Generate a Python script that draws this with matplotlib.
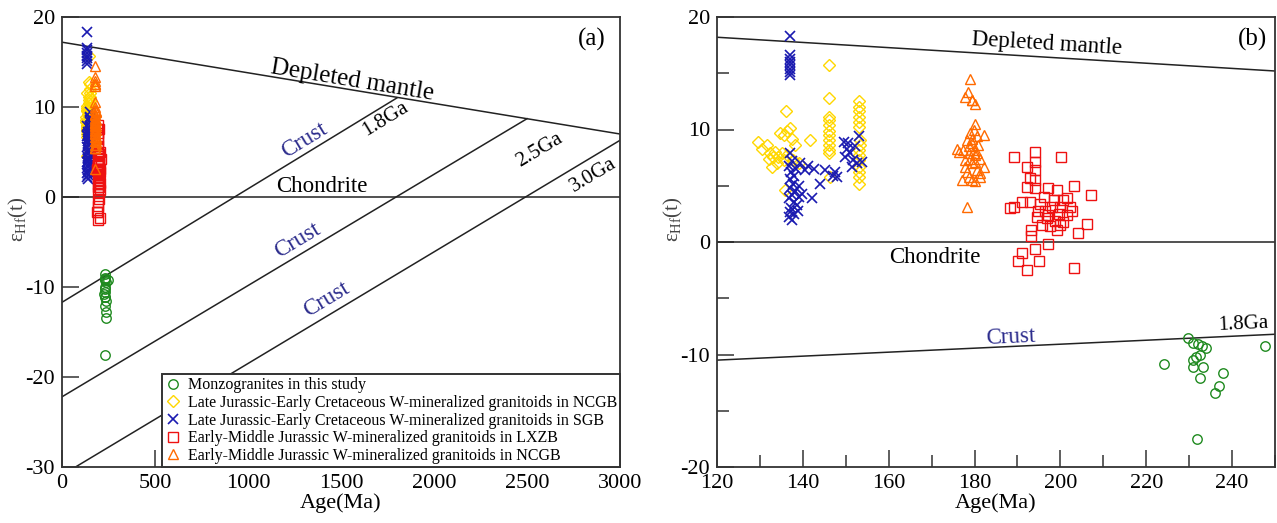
import numpy as np
import matplotlib
matplotlib.use("Agg")
import matplotlib.pyplot as plt
from matplotlib.ticker import MultipleLocator

plt.rcParams['font.family'] = ['Liberation Serif', 'DejaVu Serif']
plt.rcParams['mathtext.fontset'] = 'custom'
plt.rcParams['mathtext.rm'] = 'Liberation Serif'
plt.rcParams['axes.unicode_minus'] = False

# ---- data (age in Ma, epsilon Hf(t)) ----
green_age = [229.8, 231.0, 232.1, 233.0, 234.0, 232.6, 231.7, 231.0, 231.0, 233.3,
             224.2, 232.6, 237.9, 237.0, 236.1, 231.9, 247.7]
green_eps = [-8.5, -9.0, -9.1, -9.2, -9.4, -10.0, -10.2, -10.5, -11.1, -11.1,
             -10.8, -12.1, -11.6, -12.8, -13.4, -17.5, -9.2]

yellow_age = [129.6, 131.6, 130.4, 132.4, 133.1, 133.5, 134.3, 135.1, 135.5, 136.2,
              133.9, 132.0, 132.7, 134.7, 136.2, 137.0, 135.5, 137.4, 138.2, 137.8,
              139.0, 135.9, 136.1, 141.7, 146.0, 146.0, 146.0, 146.0, 146.0, 146.0,
              146.0, 146.0, 146.0, 146.0, 146.0, 146.3, 153.0, 153.0, 153.0, 153.0,
              153.0, 153.0, 153.0, 153.0, 153.0, 153.0, 153.0, 153.0, 153.0, 153.3, 153.3]
yellow_eps = [8.9, 8.6, 8.3, 7.9, 7.6, 8.0, 7.6, 7.9, 7.3, 7.7,
              7.0, 7.4, 6.7, 9.7, 9.9, 10.1, 9.5, 9.2, 8.6, 7.3,
              7.0, 4.6, 11.6, 9.1, 15.7, 12.8, 11.1, 10.8, 10.4, 9.9,
              9.5, 9.1, 8.6, 8.2, 7.9, 5.8, 12.5, 12.0, 11.6, 11.1,
              10.7, 10.2, 8.2, 7.7, 7.3, 6.7, 6.2, 5.8, 5.2, 9.1, 8.6]

blue_age = [137.0, 137.0, 137.0, 137.0, 137.0, 137.0, 137.0, 137.0,
            137.0, 137.5, 136.8, 138.5, 137.2, 138.0, 136.9, 137.6, 139.0, 137.1,
            138.2, 137.4, 136.8, 137.9, 138.6, 137.2, 137.0, 138.0, 136.8, 137.5,
            139.2, 138.8, 139.3, 141.3, 140.5, 142.5, 144.0, 142.1, 139.7, 145.2,
            147.5, 147.9, 147.1, 149.5, 150.2, 151.0, 149.8, 151.8, 152.6, 153.0,
            151.4, 150.6, 153.7, 152.2]
blue_eps = [18.3, 16.6, 16.3, 16.0, 15.7, 15.4, 15.1, 14.8,
            7.9, 7.2, 6.8, 6.5, 6.2, 5.9, 5.6, 5.2, 5.0, 4.8,
            4.5, 4.2, 3.9, 3.6, 3.3, 3.0, 2.7, 2.5, 2.2, 2.0,
            4.0, 2.8, 7.0, 6.8, 6.4, 6.5, 5.2, 3.9, 4.3, 6.4,
            6.2, 5.8, 5.9, 8.9, 8.3, 7.9, 7.6, 7.3, 7.0, 9.4,
            6.7, 8.8, 7.1, 8.5]

red_age = [189.1, 194.1, 200.2, 192.2, 194.1, 194.1, 194.1, 194.1, 193.0, 192.2,
           203.1, 207.1, 188.3, 189.1, 191.0, 193.0, 197.2, 199.2, 200.7, 202.3,
           201.5, 195.3, 196.5, 198.0, 199.6, 194.5, 196.9, 198.8, 200.7, 195.7,
           197.6, 200.0, 194.9, 198.4, 196.1, 200.0, 197.2, 199.2, 201.5, 202.7,
           206.2, 204.2, 193.2, 193.2, 194.1, 197.2, 191.0, 190.2, 192.2, 195.1, 203.1]
red_eps = [7.6, 8.0, 7.6, 6.7, 7.1, 6.4, 5.5, 4.8, 5.7, 4.9,
           5.0, 4.2, 3.0, 3.1, 3.6, 3.6, 4.8, 4.6, 3.7, 3.1,
           2.4, 3.4, 2.8, 3.1, 2.5, 2.2, 2.1, 1.9, 1.8, 1.5,
           1.4, 1.5, 2.8, 3.7, 4.0, 3.1, 2.4, 1.1, 3.9, 2.8,
           1.6, 0.8, 1.1, 0.5, -0.6, -0.2, -1.0, -1.7, -2.5, -1.7, -2.3]

orange_age = [179.0, 178.5, 179.4, 177.8, 180.1, 179.4, 180.1, 179.8, 182.1, 175.9,
              176.3, 178.2, 179.4, 180.9, 177.4, 178.6, 180.1, 181.3, 177.8, 179.4,
              182.1, 180.5, 178.2, 177.0, 180.1, 178.6, 181.3, 178.2, 179.0, 180.5,
              179.4, 178.6, 179.8, 180.5, 179.0, 180.1, 177.8, 181.3, 179.4]
orange_eps = [14.5, 13.3, 12.6, 12.9, 12.3, 12.6, 10.5, 10.0, 9.5, 8.3,
              8.0, 9.1, 8.8, 8.6, 8.2, 7.9, 7.7, 7.4, 7.3, 7.0,
              6.7, 6.4, 6.2, 5.5, 5.4, 5.8, 6.1, 3.1, 9.7, 9.4,
              9.2, 8.5, 8.2, 7.9, 7.4, 7.1, 6.7, 5.8, 5.5]

labels = ["Monzogranites in this study",
          "Late Jurassic-Early Cretaceous W-mineralized granitoids in NCGB",
          "Late Jurassic-Early Cretaceous W-mineralized granitoids in SGB",
          "Early-Middle Jurassic W-mineralized granitoids in LXZB",
          "Early-Middle Jurassic W-mineralized granitoids in NCGB"]

# reference lines: (x0, y0, x1, y1)
dm_a = (0, 17.2, 3000, 7.0)
crust_a = {"1.8Ga": (0, -11.7, 1800, 11.0),
           "2.5Ga": (0, -22.2, 2500, 8.7),
           "3.0Ga": (0, -30.9, 3000, 6.3)}
dm_b = (120, 18.2, 250, 15.2)
crust_b = (120, -10.5, 250, -8.2)

series = [
    (green_age, green_eps, 'o', '#1f8a1f'),
    (yellow_age, yellow_eps, 'D', '#ffd700'),
    (blue_age, blue_eps, 'x', '#1a1ab0'),
    (red_age, red_eps, 's', '#ee1111'),
    (orange_age, orange_eps, '^', '#ff6a00'),
]

line_c = '#222222'
crust_c = '#2b2b8c'

fig = plt.figure(figsize=(12.77, 5.23), dpi=100)
ax1 = fig.add_axes([62 / 1277, 56 / 523, 558 / 1277, 450 / 523])
ax2 = fig.add_axes([717 / 1277, 56 / 523, 558 / 1277, 450 / 523])


def scatter_all(ax):
    handles = []
    for (x, y, m, c), lab in zip(series, labels):
        size = 6.8 if m != 'D' else 5.8
        if m == 'x':
            h, = ax.plot(x, y, linestyle='none', marker=m, color=c, ms=7.5, mew=1.2, label=lab)
        else:
            h, = ax.plot(x, y, linestyle='none', marker=m, mec=c, mfc='none', ms=size,
                         mew=1.0, label=lab)
        handles.append(h)
    return handles


def seg(ax, s):
    ax.plot([s[0], s[2]], [s[1], s[3]], color=line_c, lw=1.1)


def rot_text(ax, x, y, s, line, **kw):
    ang = np.degrees(np.arctan2(line[3] - line[1], line[2] - line[0]))
    ax.text(x, y, s, rotation=ang, transform_rotates_text=True,
            rotation_mode='anchor', ha='center', va='center', **kw)


# ---- panel (a) ----
seg(ax1, dm_a)
ax1.axhline(0, color=line_c, lw=1.1)
for k, s in crust_a.items():
    seg(ax1, s)
handles = scatter_all(ax1)

rot_text(ax1, 1560, 12.9, "Depleted mantle", dm_a, fontsize=18)
ax1.text(1398, 1.2, "Chondrite", ha='center', va='center', fontsize=16.5)
rot_text(ax1, 1736, 8.7, "1.8Ga", crust_a["1.8Ga"], fontsize=15)
rot_text(ax1, 2570, 5.2, "2.5Ga", crust_a["2.5Ga"], fontsize=15)
rot_text(ax1, 2855, 2.4, "3.0Ga", crust_a["3.0Ga"], fontsize=15)
rot_text(ax1, 1306, 6.3, "Crust", crust_a["1.8Ga"], fontsize=16.5, color=crust_c)
rot_text(ax1, 1269, -4.8, "Crust", crust_a["2.5Ga"], fontsize=16.5, color=crust_c)
rot_text(ax1, 1425, -11.4, "Crust", crust_a["3.0Ga"], fontsize=16.5, color=crust_c)
ax1.text(0.975, 0.95, "(a)", transform=ax1.transAxes, ha='right', va='center', fontsize=18)

ax1.set_xlim(0, 3000)
ax1.set_ylim(-30, 20)
ax1.xaxis.set_major_locator(MultipleLocator(500))
ax1.yaxis.set_major_locator(MultipleLocator(10))

leg = ax1.legend(handles=handles, loc='lower right', borderaxespad=0, fontsize=11.5,
                 frameon=True, fancybox=False, handlelength=1.0, handletextpad=0.4,
                 labelspacing=0.1, borderpad=0.2, markerscale=1.0)
leg.get_frame().set_edgecolor('#333333')
leg.get_frame().set_linewidth(1.4)
leg.get_frame().set_alpha(1)

# ---- panel (b) ----
seg(ax2, dm_b)
ax2.axhline(0, color=line_c, lw=1.1)
seg(ax2, crust_b)
scatter_all(ax2)

rot_text(ax2, 196.9, 17.6, "Depleted mantle", dm_b, fontsize=16.5)
ax2.text(170.8, -1.4, "Chondrite", ha='center', va='center', fontsize=16.5)
rot_text(ax2, 188.3, -8.5, "Crust", crust_b, fontsize=16.5, color=crust_c)
rot_text(ax2, 242.5, -7.3, "1.8Ga", crust_b, fontsize=15)
ax2.text(0.985, 0.95, "(b)", transform=ax2.transAxes, ha='right', va='center', fontsize=18)

ax2.set_xlim(120, 250)
ax2.set_ylim(-20, 20)
ax2.xaxis.set_major_locator(MultipleLocator(20))
ax2.xaxis.set_minor_locator(MultipleLocator(10))
ax2.yaxis.set_major_locator(MultipleLocator(10))
ax2.yaxis.set_minor_locator(MultipleLocator(5))

for ax in (ax1, ax2):
    for sp in ax.spines.values():
        sp.set_color('#333333')
        sp.set_linewidth(1.3)
    ax.tick_params(which='major', direction='in', length=12, width=1.1,
                   color='#333333', labelsize=16, pad=5)
    ax.tick_params(which='minor', direction='in', length=8.5, width=1.1, color='#333333')
    ax.set_xlabel("Age(Ma)", fontsize=16, labelpad=0)
    ax.set_ylabel(r"$\mathregular{\varepsilon_{Hf}(t)}$", fontsize=15, color='#444444')
    ax.yaxis.set_label_coords(-0.057, 0.55)

fig.savefig("out.png", dpi=100)
